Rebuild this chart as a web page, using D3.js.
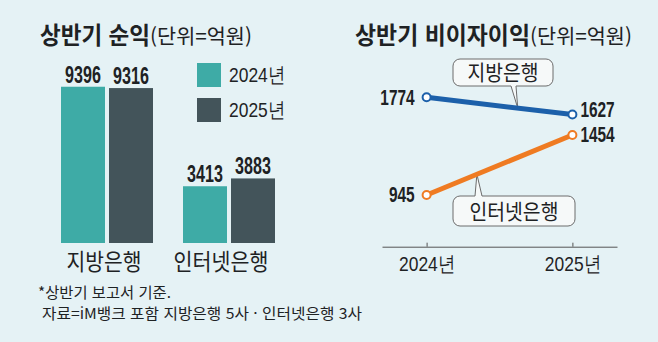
<!DOCTYPE html>
<html lang="ko">
<head>
<meta charset="utf-8">
<script src="https://cdn.jsdelivr.net/npm/d3@7"></script>
<style>
  html, body { margin: 0; padding: 0; background: #e5f2f5; }
  svg { display: block; }
  text { fill: #1e2224; font-family: "Noto Sans CJK KR", "Noto Sans", sans-serif; }
  .num { font-family: "Liberation Sans", Arial, sans-serif; font-weight: 700; }
  .yr { font-family: "Liberation Sans", Arial, sans-serif; }
</style>
</head>
<body>
<svg id="chart" width="658" height="342"></svg>
<script>
// ---- data ----
const bankGroups = ["지방은행", "인터넷은행"];
const years = ["2024년", "2025년"];
const netIncome2024 = [9396, 3413];      // 상반기 순익 (억원)
const netIncome2025 = [9316, 3883];
const nonInterest2024 = [1774, 945];     // 상반기 비이자이익 (억원)
const nonInterest2025 = [1627, 1454];
const footnotes = ["*상반기 보고서 기준.", "자료=iM뱅크 포함 지방은행 5사 · 인터넷은행 3사"];

const TEAL = "#3eaba6", SLATE = "#43545a", BLUE = "#1c60aa", ORANGE = "#ef7b22";
const yearColor = [TEAL, SLATE];
const lineColor = [BLUE, ORANGE];

const svg = d3.select("#chart");

// narrow the glyphs of a text to a share of its natural width
function squeeze(sel, k) {
  sel.each(function () {
    const w = this.getComputedTextLength();
    d3.select(this).attr("textLength", w * k).attr("lengthAdjust", "spacingAndGlyphs");
  });
}
function fitTo(sel, w) {
  sel.attr("textLength", w).attr("lengthAdjust", "spacingAndGlyphs");
}

// ---- titles ----
function title(x, main, unit, w1, w2) {
  const t = svg.append("text").attr("x", x).attr("y", 44).attr("font-size", 23.5);
  t.append("tspan").attr("font-weight", 700).text(main).attr("textLength", w1).attr("lengthAdjust", "spacingAndGlyphs");
  t.append("tspan").attr("font-size", 20.5).attr("font-weight", 400).text(unit).attr("textLength", w2).attr("lengthAdjust", "spacingAndGlyphs");
}
title(40, "상반기 순익", "(단위=억원)", 110, 102);
title(355, "상반기 비이자이익", "(단위=억원)", 175, 102);

// ---- left: grouped bars ----
const x0 = d3.scaleBand().domain(bankGroups).range([61, 275]).paddingInner(0.2459).paddingOuter(0);
const x1 = d3.scaleBand().domain(years).range([0, x0.bandwidth()]).paddingInner(0.0833);
const yBar = d3.scaleLinear().domain([0, 10000]).range([243, 76.7]);

const barRows = bankGroups.map((g, i) => ({
  group: g,
  values: [
    { year: years[0], v: netIncome2024[i], c: 0 },
    { year: years[1], v: netIncome2025[i], c: 1 }
  ]
}));

const groups = svg.append("g").selectAll("g").data(barRows).join("g")
  .attr("transform", d => `translate(${x0(d.group)},0)`);

groups.selectAll("rect").data(d => d.values).join("rect")
  .attr("x", d => x1(d.year))
  .attr("y", d => yBar(d.v))
  .attr("width", x1.bandwidth())
  .attr("height", d => yBar(0) - yBar(d.v))
  .attr("fill", d => yearColor[d.c]);

groups.selectAll("text.num").data(d => d.values).join("text")
  .attr("class", "num")
  .attr("x", d => x1(d.year) + x1.bandwidth() / 2)
  .attr("y", d => yBar(d.v) - 4)
  .attr("text-anchor", "middle")
  .attr("font-size", 23)
  .text(d => d.v)
  .call(squeeze, 0.7);

svg.append("g").selectAll("text").data(bankGroups).join("text")
  .attr("x", (d, i) => x0(d) + x0.bandwidth() / 2 - (i === 0 ? 3 : 8))
  .attr("y", 270)
  .attr("text-anchor", "middle")
  .attr("font-size", 23)
  .text(d => d)
  .each(function (d, i) { d3.select(this).call(fitTo, i === 0 ? 75 : 95); });

// legend
const legend = svg.append("g").selectAll("g").data(years).join("g")
  .attr("transform", (d, i) => `translate(197,${63 + i * 35})`);
legend.append("rect").attr("width", 24).attr("height", 24).attr("fill", (d, i) => yearColor[i]);
legend.append("text").attr("class", "yr").attr("x", 32).attr("y", 19).attr("font-size", 21)
  .text(d => d).call(squeeze, 0.83);

// footnotes
svg.append("text").attr("x", 38).attr("y", 298).attr("font-size", 15).text(footnotes[0]).call(fitTo, 133);
svg.append("text").attr("x", 42).attr("y", 319).attr("font-size", 15).text(footnotes[1]).call(fitTo, 320);

// ---- right: lines ----
const xl = d3.scalePoint().domain(years).range([382, 617]).padding(0.306);
const yl = d3.scaleLinear().domain([500, 2000]).range([247.4, 70.6]);

const axis = svg.append("g").attr("transform", "translate(0,246.7)")
  .call(d3.axisBottom(xl).tickSize(-4).tickSizeOuter(0).tickPadding(24));
axis.select(".domain").attr("stroke", "#555");
axis.selectAll(".tick line").attr("stroke", "#555");
axis.selectAll(".tick text").attr("class", "yr").attr("font-size", 21).attr("fill", "#1e2224")
  .attr("dy", 0).call(squeeze, 0.83);

const series = bankGroups.map((g, i) => ({
  group: g, c: i,
  pts: [{ year: years[0], v: nonInterest2024[i] }, { year: years[1], v: nonInterest2025[i] }]
}));

const line = d3.line().x(d => xl(d.year)).y(d => yl(d.v));

// callouts (drawn first so the lines sit on top of the tails)
const callouts = [
  { c: 0, t: 0.625, box: [453, 59, 100, 27], base: [511, 516], tailFrom: "bottom" },
  { c: 1, t: 0.345, box: [453, 196, 122, 30], base: [475, 482], tailFrom: "top" }
];
callouts.forEach(co => {
  const s = series[co.c];
  const tx = xl(years[0]) + co.t * (xl(years[1]) - xl(years[0]));
  const ty = yl(s.pts[0].v) + co.t * (yl(s.pts[1].v) - yl(s.pts[0].v));
  const [bx, by, bw, bh] = co.box;
  const g = svg.append("g");
  g.append("rect").attr("x", bx).attr("y", by).attr("width", bw).attr("height", bh)
    .attr("rx", 7).attr("fill", "#f6f9f9").attr("stroke", "#6c6c6c").attr("stroke-width", 1);
  const edge = co.tailFrom === "bottom" ? by + bh : by;
  const inner = co.tailFrom === "bottom" ? edge - 1 : edge + 1;
  g.append("path")
    .attr("d", `M${co.base[0]},${inner}L${co.base[0]},${edge}L${tx},${ty}L${co.base[1]},${edge}L${co.base[1]},${inner}Z`)
    .attr("fill", "#f6f9f9").attr("stroke", "none");
  g.append("path")
    .attr("d", `M${co.base[0]},${edge}L${tx},${ty}L${co.base[1]},${edge}`)
    .attr("fill", "none").attr("stroke", "#6c6c6c").attr("stroke-width", 1);
  g.append("text").attr("x", bx + bw / 2).attr("y", by + bh / 2 + 7.5).attr("text-anchor", "middle")
    .attr("font-size", 21).text(s.group).call(squeeze, 0.92);
});

const lines = svg.append("g").selectAll("g").data(series).join("g");
lines.append("path").attr("d", d => line(d.pts)).attr("fill", "none")
  .attr("stroke", d => lineColor[d.c]).attr("stroke-width", 5);
lines.selectAll("circle").data(d => d.pts.map(p => ({ ...p, c: d.c }))).join("circle")
  .attr("cx", d => xl(d.year)).attr("cy", d => yl(d.v)).attr("r", 4)
  .attr("fill", "#fff").attr("stroke", d => lineColor[d.c]).attr("stroke-width", 2);

// end labels; the upper label on the right sits a little higher to clear the one below it
const rightTop = d3.max(nonInterest2025);
lines.selectAll("text").data(d => d.pts).join("text")
  .attr("class", "num")
  .attr("x", (d, i) => xl(d.year) + (i === 0 ? -12 : 8))
  .attr("y", (d, i) => yl(d.v) + (i === 1 && d.v === rightTop ? 2 : 7.5))
  .attr("text-anchor", (d, i) => i === 0 ? "end" : "start")
  .attr("font-size", 22)
  .text(d => d.v)
  .call(squeeze, 0.7);
</script>
</body>
</html>
